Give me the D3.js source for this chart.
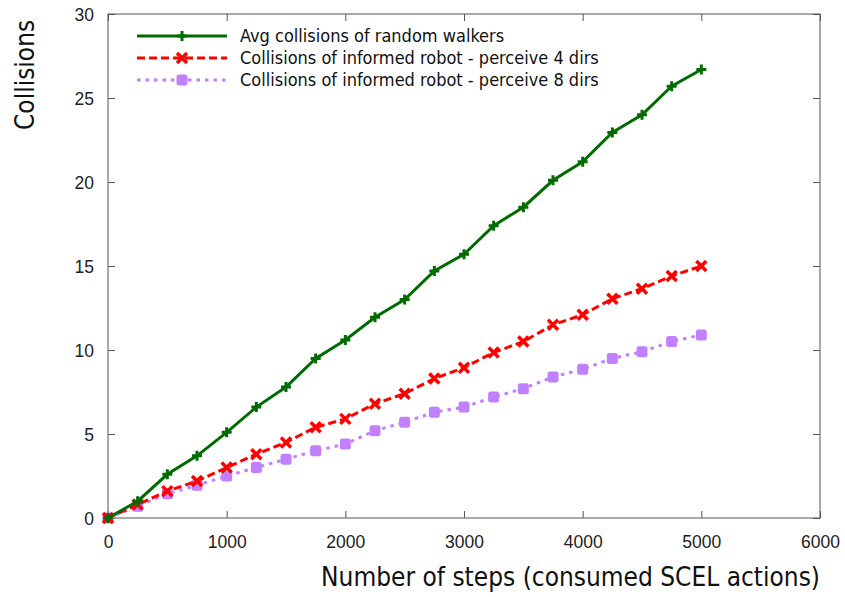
<!DOCTYPE html>
<html><head><meta charset="utf-8">
<script src="https://cdn.jsdelivr.net/npm/d3@7"></script>
<style>body{margin:0;background:#fff}</style>
</head><body>
<svg id="c" width="845" height="597"></svg>
<script>
const steps = [0,250,500,750,1000,1250,1500,1750,2000,2250,2500,2750,3000,3250,3500,3750,4000,4250,4500,4750,5000];
const randomWalkers = [0,1.0,2.6,3.7,5.1,6.6,7.8,9.5,10.6,11.95,13.0,14.7,15.7,17.4,18.5,20.1,21.2,22.95,24.0,25.7,26.7];
const informed4 = [0,0.8,1.6,2.2,3.0,3.8,4.5,5.4,5.9,6.8,7.4,8.3,8.95,9.85,10.5,11.5,12.1,13.05,13.65,14.4,15.0];
const informed8 = [0,0.7,1.45,1.95,2.5,3.0,3.5,4.0,4.4,5.2,5.7,6.3,6.6,7.2,7.7,8.4,8.85,9.5,9.9,10.5,10.9];
const xTicks = [0,1000,2000,3000,4000,5000,6000];
const yTicks = [0,5,10,15,20,25,30];
const seriesNames = ["Avg collisions of random walkers","Collisions of informed robot - perceive 4 dirs","Collisions of informed robot - perceive 8 dirs"];
const xTitle = "Number of steps (consumed SCEL actions)";
const yTitle = "Collisions";

const svg = d3.select("#c");
const L=108,R=820,T=14,B=518;
const x = d3.scaleLinear().domain([0,6000]).range([L,R]);
const y = d3.scaleLinear().domain([0,30]).range([B,T]);
const labelFont = "'DejaVu Sans Condensed', 'DejaVu Sans', Verdana, sans-serif";

const series = [
  {name:seriesNames[0], vals:randomWalkers, color:"#006b00", dash:null, marker:"plus"},
  {name:seriesNames[1], vals:informed4, color:"#ff0000", dash:"8,4", marker:"cross"},
  {name:seriesNames[2], vals:informed8, color:"#c080ff", dash:"3.5,5", marker:"square"}
];

svg.append("rect").attr("x",L).attr("y",T).attr("width",R-L).attr("height",B-T)
  .attr("fill","none").attr("stroke","#555").attr("stroke-width",1);

const tickLen=7;
const xAxis = svg.append("g").attr("transform",`translate(0,${B})`)
  .call(d3.axisBottom(x).tickValues(xTicks).tickSize(-tickLen).tickPadding(14).tickFormat(d3.format("d")));
const xAxisTop = svg.append("g").attr("transform",`translate(0,${T})`)
  .call(d3.axisTop(x).tickValues(xTicks).tickSize(-tickLen).tickFormat(""));
const yAxis = svg.append("g").attr("transform",`translate(${L},0)`)
  .call(d3.axisLeft(y).tickValues(yTicks).tickSize(-tickLen).tickPadding(14).tickFormat(d3.format("d")));
const yAxisR = svg.append("g").attr("transform",`translate(${R},0)`)
  .call(d3.axisRight(y).tickValues(yTicks).tickSize(-tickLen).tickFormat(""));
[xAxis,xAxisTop,yAxis,yAxisR].forEach(a=>{
  a.select(".domain").remove();
  a.selectAll("line").attr("stroke","#555");
  a.selectAll("text").attr("font-family","'Liberation Sans', Arial, sans-serif").attr("font-size",17.5).attr("fill","#222");
});
xAxis.selectAll("text").attr("dy","0.9em");
yAxis.selectAll("text").attr("dy","0.35em");

const line = d3.line().x((d,i)=>x(steps[i])).y(d=>y(d));

function marker(sel, type, color, cx, cy){
  if(type==="plus"){
    sel.append("path").attr("d",`M${cx-5},${cy}H${cx+5}M${cx},${cy-5}V${cy+5}`)
      .attr("stroke",color).attr("stroke-width",3);
  } else if(type==="cross"){
    sel.append("path").attr("d",`M${cx-5},${cy-5}L${cx+5},${cy+5}M${cx+5},${cy-5}L${cx-5},${cy+5}`)
      .attr("stroke",color).attr("stroke-width",3.5);
  } else {
    sel.append("rect").attr("x",cx-5.5).attr("y",cy-5.5).attr("width",11).attr("height",11)
      .attr("rx",2.5).attr("fill",color);
  }
}

series.slice().reverse().forEach(s=>{
  const p = svg.append("path").datum(s.vals).attr("d",line)
    .attr("fill","none").attr("stroke",s.color).attr("stroke-width",3);
  if(s.dash) p.attr("stroke-dasharray",s.dash);
  const mg = svg.append("g");
  s.vals.forEach((v,i)=>marker(mg,s.marker,s.color,x(steps[i]),y(v)));
});

const lg = svg.append("g");
series.forEach((s,i)=>{
  const yy = 36 + i*22;
  const p = lg.append("line").attr("x1",137).attr("x2",227).attr("y1",yy).attr("y2",yy)
    .attr("stroke",s.color).attr("stroke-width",3);
  if(s.dash) p.attr("stroke-dasharray",s.dash);
  marker(lg,s.marker,s.color,182,yy);
  lg.append("text").attr("x",240).attr("y",yy).attr("dy","0.35em")
    .attr("font-family",labelFont).attr("font-size",18).attr("fill","#111")
    .text(s.name);
});

svg.append("text").attr("x",820).attr("y",586).attr("text-anchor","end")
  .attr("font-family",labelFont).attr("font-size",26).attr("fill","#111")
  .text(xTitle);
svg.append("text").attr("transform","translate(34,130) rotate(-90)").attr("text-anchor","start")
  .attr("font-family",labelFont).attr("font-size",26).attr("fill","#111")
  .text(yTitle);
</script>
</body></html>
